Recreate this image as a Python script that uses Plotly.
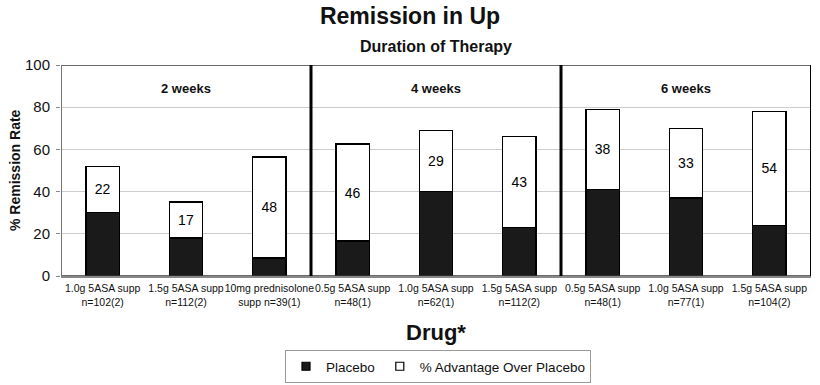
import plotly.graph_objects as go

# ---- data ----
drugs = [
    "1.0g 5ASA supp<br>n=102(2)",
    "1.5g 5ASA supp<br>n=112(2)",
    "10mg prednisolone<br>supp n=39(1)",
    "0.5g 5ASA supp<br>n=48(1)",
    "1.0g 5ASA supp<br>n=62(1)",
    "1.5g 5ASA supp<br>n=112(2)",
    "0.5g 5ASA supp<br>n=48(1)",
    "1.0g 5ASA supp<br>n=77(1)",
    "1.5g 5ASA supp<br>n=104(2)",
]
durations = ["2 weeks", "4 weeks", "6 weeks"]
group_sizes = [3, 3, 3]
placebo = [30, 18, 8.5, 16.5, 40, 23, 41, 37, 24]
advantage = [22, 17, 48, 46, 29, 43, 38, 33, 54]
y_ticks = [0, 20, 40, 60, 80, 100]
series_names = ["Placebo", "% Advantage Over Placebo"]
series_fill = ["#1a1a1a", "#ffffff"]

FONT = "Liberation Sans, Arial, sans-serif"
x_idx = list(range(len(drugs)))

fig = go.Figure()
fig.add_trace(go.Bar(
    x=x_idx, y=placebo, name=series_names[0], width=0.4, showlegend=False,
    marker=dict(color=series_fill[0], line=dict(color="#000", width=1.2)),
))
fig.add_trace(go.Bar(
    x=x_idx, y=advantage, name=series_names[1], width=0.4, showlegend=False,
    marker=dict(color=series_fill[1], line=dict(color="#000", width=1.5)),
    text=[str(v) for v in advantage], textposition="inside",
    insidetextanchor="middle", textangle=0, constraintext="none",
    textfont=dict(family=FONT, size=14, color="#000"),
))
# legend entries (small square keys like the original)
for nm, col in zip(series_names, series_fill):
    fig.add_trace(go.Scatter(
        x=[None], y=[None], mode="markers", name=nm,
        marker=dict(symbol="square", size=8, color=col, line=dict(color="#000", width=1.2)),
    ))

shapes = []
annotations = []
start = 0
for name, n in zip(durations, group_sizes):
    x0, x1 = start - 0.5, start + n - 0.5
    shapes.append(dict(type="rect", xref="x", yref="y", x0=x0, x1=x1, y0=0, y1=100,
                       line=dict(color="#3a3a3a", width=1.5), layer="above"))
    annotations.append(dict(x=(x0 + x1) / 2, y=89, xref="x", yref="y", text="<b>%s</b>" % name,
                            showarrow=False, font=dict(family=FONT, size=13, color="#111")))
    start += n
# thick dividers between panels
start = 0
for n in group_sizes[:-1]:
    start += n
    shapes.append(dict(type="line", xref="x", yref="y", x0=start - 0.5, x1=start - 0.5, y0=0, y1=100,
                       line=dict(color="#000", width=3), layer="above"))
shapes.append(dict(type="line", xref="x", yref="y", x0=len(drugs) - 0.5, x1=len(drugs) - 0.5, y0=0, y1=100,
                   line=dict(color="#000", width=2), layer="above"))
shapes.append(dict(type="line", xref="x", yref="y", x0=-0.5, x1=-0.5, y0=0, y1=100,
                   line=dict(color="#777", width=2), layer="above"))

annotations += [
    dict(x=0.5, y=1.09, xref="paper", yref="paper", text="<b>Duration of Therapy</b>",
         showarrow=False, yanchor="middle", font=dict(family=FONT, size=16, color="#111")),
    dict(x=0.5, y=-0.27, xref="paper", yref="paper", text="<b>Drug*</b>",
         showarrow=False, yanchor="middle", font=dict(family=FONT, size=22, color="#111")),
    dict(x=-0.062, y=0.5, xref="paper", yref="paper", text="<b>% Remission Rate</b>",
         showarrow=False, textangle=-90, xanchor="center", yanchor="middle",
         font=dict(family=FONT, size=14, color="#111")),
]

fig.update_layout(
    width=820, height=385,
    margin=dict(l=61, r=9, t=65, b=109, autoexpand=False),
    paper_bgcolor="white", plot_bgcolor="white",
    barmode="stack",
    font=dict(family=FONT, color="#111"),
    title=dict(text="<b>Remission in Up</b>", x=0.5, xanchor="center", y=1 - 16 / 385,
               yanchor="middle", font=dict(family=FONT, size=23, color="#111")),
    xaxis=dict(range=[-0.5, len(drugs) - 0.5], tickvals=x_idx, ticktext=drugs,
               tickfont=dict(family=FONT, size=10.5, color="#111"), tickangle=0,
               showgrid=False, zeroline=False, showline=True, linecolor="#888",
               linewidth=1.5, ticks="", automargin=False, ticklabelstandoff=2),
    yaxis=dict(range=[0, 100], tickvals=y_ticks, showgrid=True, gridcolor="#cccccc",
               gridwidth=1, zeroline=False, ticks="outside", ticklen=4, tickcolor="#888",
               tickfont=dict(family=FONT, size=15, color="#111"), automargin=False,
               ticklabelstandoff=3),
    legend=dict(orientation="h", x=438 / 820, xanchor="center", xref="container",
                y=1 - 383 / 385, yanchor="bottom", yref="container",
                bordercolor="#999", borderwidth=1, font=dict(family=FONT, size=13.5, color="#111"),
                traceorder="normal"),
    shapes=shapes, annotations=annotations,
    bargap=0.6,
)

fig.write_html("out.html", config={"displayModeBar": False},
               post_script="document.body.style.margin='0';")
